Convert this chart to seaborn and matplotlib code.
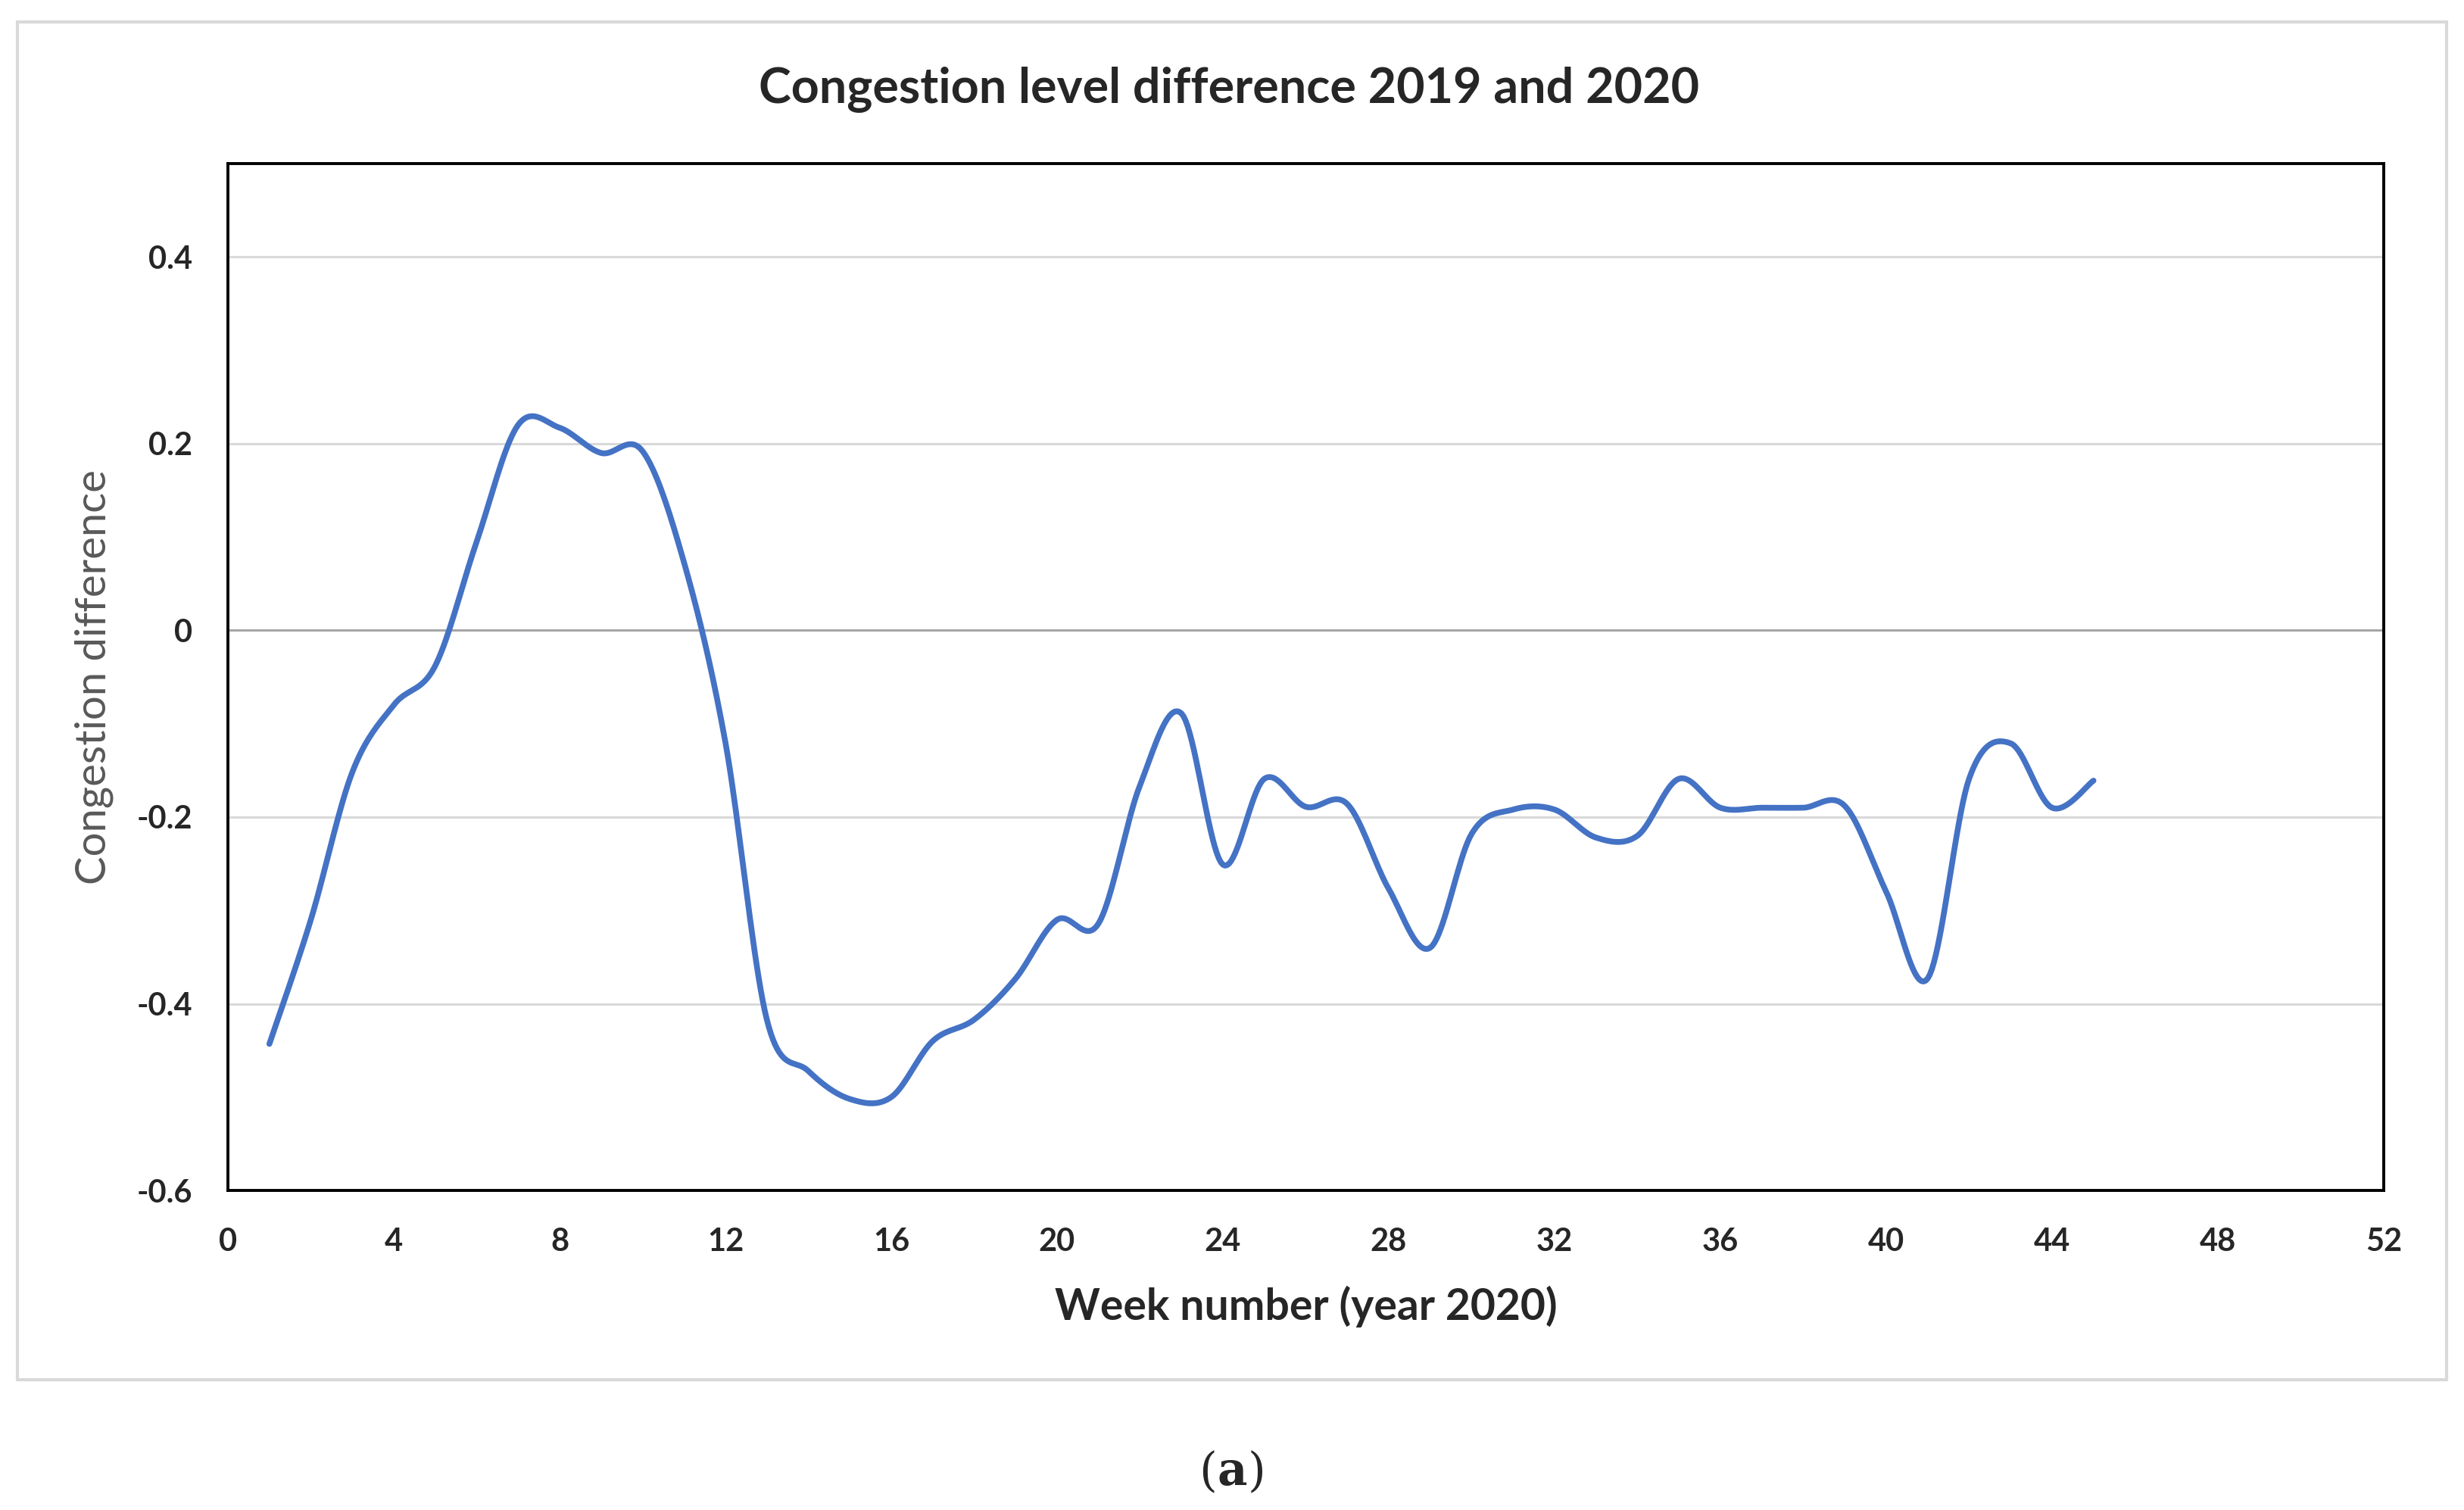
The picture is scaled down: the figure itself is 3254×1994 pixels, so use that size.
"""
Congestion level difference 2019 vs 2020, weekly, smoothed line (Excel style).
"""
import numpy as np
import pandas as pd
import matplotlib
matplotlib.use("Agg")
import matplotlib.pyplot as plt
from matplotlib.patches import Rectangle
import seaborn as sns

# week numbers and values
weeks = list(range(1, 46))
congestion_diff = [
    -0.443, -0.31, -0.152, -0.08, -0.038, 0.095, 0.22, 0.217, 0.19, 0.192,
    0.073, -0.12, -0.417, -0.472, -0.502, -0.50, -0.44, -0.417, -0.373, -0.31,
    -0.314, -0.166, -0.089, -0.251, -0.159, -0.189, -0.186, -0.277, -0.34, -0.218,
    -0.192, -0.192, -0.222, -0.22, -0.159, -0.19, -0.19, -0.19, -0.188, -0.28,
    -0.373, -0.159, -0.121, -0.19, -0.161,
]
x_ticks = list(range(0, 53, 4))
y_ticks = [-0.6, -0.4, -0.2, 0, 0.2, 0.4]
y_tick_labels = ["-0.6", "-0.4", "-0.2", "0", "0.2", "0.4"]

TITLE = "Congestion level difference 2019 and 2020"
XLABEL = "Week number (year 2020)"
YLABEL = "Congestion difference"

LINE_COLOR = "#4472C4"
GRID_COLOR = "#D9D9D9"


def smooth_line(x, y, steps=20):
    """Catmull-Rom style smoothing, similar to Excel's 'smoothed line'."""
    x = np.asarray(x, float)
    y = np.asarray(y, float)
    px = np.concatenate([[x[0]], x, [x[-1]]])
    py = np.concatenate([[y[0]], y, [y[-1]]])
    xs, ys = [], []
    t = np.linspace(0, 1, steps, endpoint=False)
    for i in range(1, len(px) - 2):
        p0, p1, p2, p3 = (np.array([px[j], py[j]]) for j in range(i - 1, i + 3))
        c1 = p1 + (p2 - p0) / 6.0
        c2 = p2 - (p3 - p1) / 6.0
        b = ((1 - t) ** 3)[:, None] * p1 + (3 * (1 - t) ** 2 * t)[:, None] * c1 \
            + (3 * (1 - t) * t ** 2)[:, None] * c2 + (t ** 3)[:, None] * p2
        xs.extend(b[:, 0])
        ys.extend(b[:, 1])
    xs.append(x[-1])
    ys.append(y[-1])
    return np.array(xs), np.array(ys)


sns.set_theme(style="white")
plt.rcParams["font.family"] = ["Lato", "DejaVu Sans"]

fig = plt.figure(figsize=(32.54, 19.94), dpi=100)
ax = fig.add_axes([0.0925, 0.2116, 0.8749, 0.6801])

sx, sy = smooth_line(weeks, congestion_diff)
curve = pd.DataFrame({"week": sx, "diff": sy})
sns.lineplot(data=curve, x="week", y="diff", sort=False, color=LINE_COLOR,
             linewidth=5.5, ax=ax, zorder=3)

ax.set_xlim(0, 52)
ax.set_ylim(-0.6, 0.5)
ax.set_xticks(x_ticks)
ax.set_xticklabels([str(v) for v in x_ticks], fontsize=30, fontweight="bold")
ax.set_yticks(y_ticks)
ax.set_yticklabels(y_tick_labels, fontsize=30, fontweight="bold")
ax.tick_params(axis="both", length=0)
ax.tick_params(axis="x", pad=35)
ax.tick_params(axis="y", pad=34)

for v in y_ticks:
    if v == 0:
        ax.axhline(v, color="#A6A6A6", linewidth=2.2, zorder=1)
    elif v > -0.6:
        ax.axhline(v, color=GRID_COLOR, linewidth=2.2, zorder=1)

for s in ax.spines.values():
    s.set_color("black")
    s.set_linewidth(2.8)

ax.set_xlabel(XLABEL, fontsize=41, fontweight="bold", labelpad=28)
ax.set_ylabel(YLABEL, fontsize=40.5, color="#595959", labelpad=22)
fig.text(0.4988, 0.9405, TITLE, fontsize=46.5, fontweight="bold",
         ha="center", va="center")

# outer chart frame
fig.patches.append(Rectangle((23 / 3254, 1 - 1822 / 1994), (3231 - 23) / 3254,
                             (1822 - 29) / 1994, transform=fig.transFigure,
                             fill=False, edgecolor="#D9D9D9", linewidth=3))

cap_y = 1 - 1944 / 1994
fig.text(0.5, cap_y, "a", fontsize=44, family="DejaVu Serif",
         fontweight="bold", ha="center", va="center")
fig.text(0.5 - 0.0062, cap_y, "(", fontsize=44, family="DejaVu Serif",
         ha="right", va="center")
fig.text(0.5 + 0.0062, cap_y, ")", fontsize=44, family="DejaVu Serif",
         ha="left", va="center")

fig.savefig("out.png", dpi=100)
